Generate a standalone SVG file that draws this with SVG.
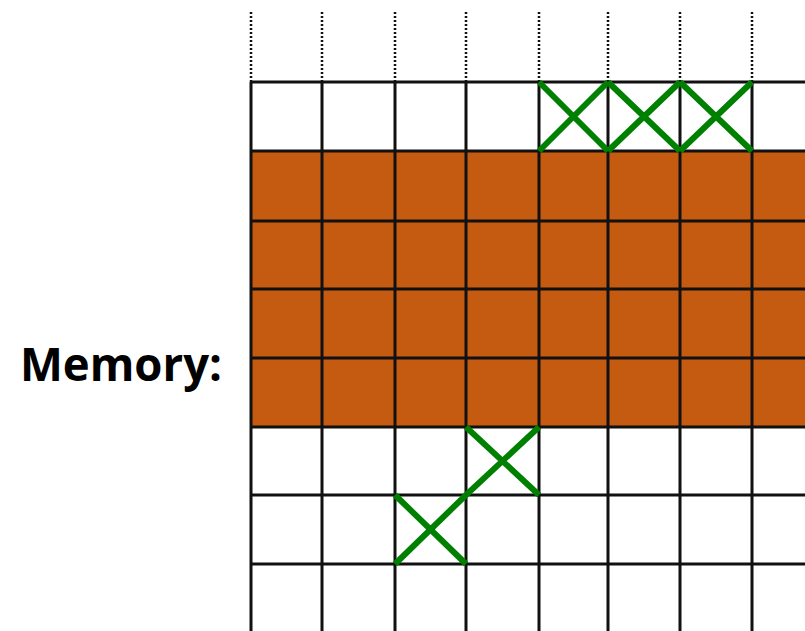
<svg xmlns="http://www.w3.org/2000/svg" width="805" height="631" viewBox="0 0 805 631">
<style>
.grid{stroke:#111;stroke-width:3;fill:none}
.dot{stroke:#111;stroke-width:2.5;stroke-dasharray:2 2;fill:none}
.x{stroke:#008000;stroke-width:6;stroke-linecap:butt;fill:none}
.lbl{font-family:"Open Sans","Liberation Sans",sans-serif;font-weight:bold;font-size:47px;fill:#000}
</style>
<rect width="805" height="631" fill="#fff"/>
<g id="label"><text class="lbl" x="20" y="381" textLength="202" lengthAdjust="spacingAndGlyphs">Memory:</text></g>
<g id="filled">
<rect x="251" y="151" width="554" height="276" fill="#C55A11"/>
</g>
<g id="dotted">
<path class="dot" d="M251 12V82M322 12V82M395 12V82M466 12V82M539 12V82M608 12V82M680 12V82M752 12V82"/>
</g>
<g id="gridlines">
<path class="grid" d="M251 82V631M322 82V631M395 82V631M466 82V631M539 82V631M608 82V631M680 82V631M752 82V631"/>
<path class="grid" d="M251 82H805M251 151H805M251 221H805M251 289H805M251 358H805M251 427H805M251 495H805M251 564H805"/>
</g>
<g id="crosses">
<path class="x" d="M539 82L608 151M608 82L539 151"/>
<path class="x" d="M608 82L680 151M680 82L608 151"/>
<path class="x" d="M680 82L752 151M752 82L680 151"/>
<path class="x" d="M466 427L539 495M539 427L466 495"/>
<path class="x" d="M395 495L466 564M466 495L395 564"/>
</g>
</svg>
